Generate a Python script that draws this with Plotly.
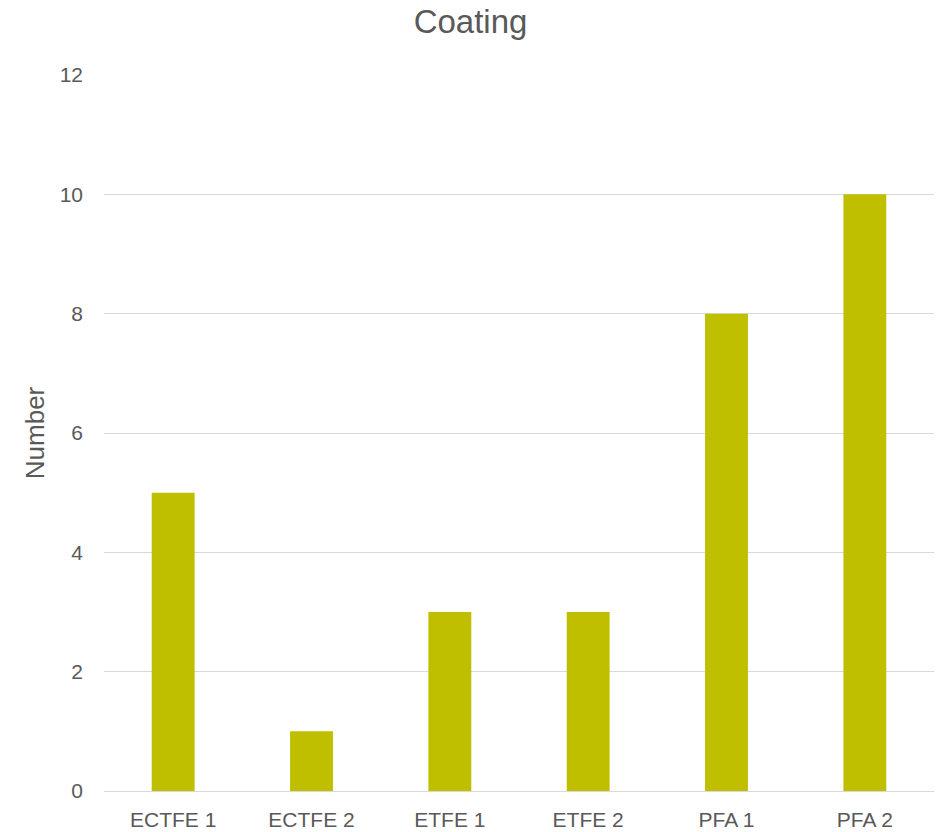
import plotly.graph_objects as go

categories = ["ECTFE 1", "ECTFE 2", "ETFE 1", "ETFE 2", "PFA 1", "PFA 2"]
counts = [5, 1, 3, 3, 8, 10]
y_ticks = [0, 2, 4, 6, 8, 10, 12]

font_family = "Liberation Sans"
text_gray = "#595959"

fig = go.Figure(
    go.Bar(
        x=categories,
        y=counts,
        marker=dict(color="#BFBF00", line=dict(width=0)),
        width=0.31,
    )
)

fig.update_layout(
    width=941,
    height=832,
    margin=dict(l=104, r=7, t=75, b=41),
    paper_bgcolor="white",
    plot_bgcolor="white",
    showlegend=False,
    title=dict(
        text="Coating",
        x=0.5,
        xanchor="center",
        y=1 - 21 / 832,
        yanchor="middle",
        font=dict(family=font_family, size=33, color=text_gray),
    ),
    font=dict(family=font_family, color=text_gray),
)

fig.update_xaxes(
    automargin=False,
    showgrid=False,
    showline=True,
    linecolor="#d9d9d9",
    linewidth=1,
    ticks="",
    tickfont=dict(family=font_family, size=21, color=text_gray),
    ticklabelstandoff=10,
)

fig.update_yaxes(
    automargin=False,
    range=[0, 12],
    tickvals=y_ticks,
    showgrid=True,
    gridcolor="#d9d9d9",
    gridwidth=1,
    zeroline=False,
    showline=False,
    ticks="",
    tickfont=dict(family=font_family, size=21, color=text_gray),
    ticklabelstandoff=20,
    title=dict(text="Number", font=dict(family=font_family, size=26, color=text_gray), standoff=7),
)

fig.write_html("out.html")
